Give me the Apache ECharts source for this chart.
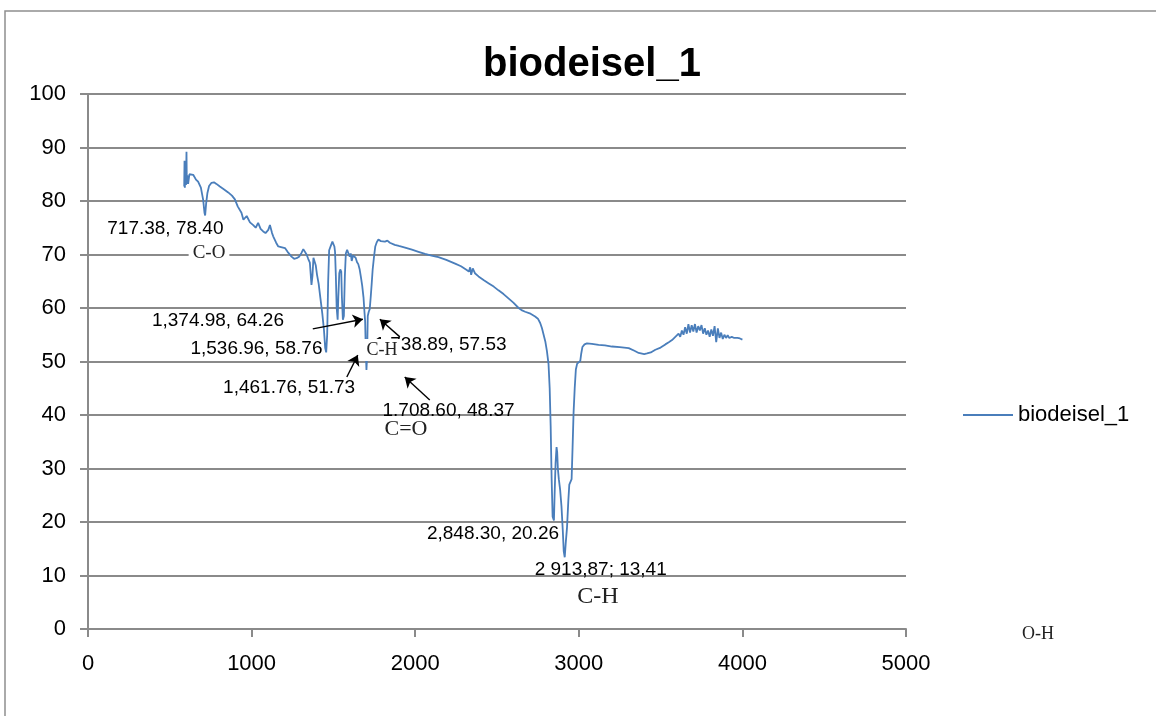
<!DOCTYPE html>
<html lang="en">
<head>
    <meta charset="utf-8">
    <title>biodeisel_1</title>
    <script type="text/javascript" src="https://cdn.jsdelivr.net/npm/echarts@6/dist/echarts.min.js"></script>
    <style>
        html, body { margin: 0; padding: 0; background: #fff; }
    </style>
</head>

<body>
    <div id="main" style="width:1156px;height:716px;"></div>

    <script type="text/javascript">
    // wavenumber (cm-1) and transmittance (%)
    var waveNumbers = [
        588, 590, 592, 596, 599, 602, 604, 607, 612, 620, 628, 643, 660, 673, 690, 704, 712, 716,
        722, 730, 740, 755, 770, 785, 806, 830, 857, 880, 898, 915, 938, 950, 959, 970, 979, 990,
        1010, 1025, 1040, 1055, 1071, 1085, 1102, 1112, 1118, 1125, 1132, 1150, 1163, 1180, 1204,
        1220, 1244, 1260, 1275, 1290, 1305, 1316, 1326, 1336, 1346, 1356, 1366, 1372, 1378, 1384,
        1392, 1400, 1410, 1420, 1432, 1442, 1450, 1456, 1462, 1468, 1474, 1484, 1494, 1500, 1506,
        1510, 1515, 1520, 1526, 1530, 1536, 1542, 1548, 1552, 1558, 1564, 1570, 1576, 1584, 1592,
        1600, 1606, 1612, 1620, 1628, 1636, 1644, 1652, 1660, 1668, 1676, 1684, 1690, 1694, 1698,
        1702, 1706, 1710, 1716, 1722, 1728, 1734, 1740, 1748, 1756, 1765, 1775, 1790, 1800, 1815,
        1830, 1845, 1856, 1875, 1900, 1938, 1980, 2020, 2060, 2100, 2142, 2190, 2244, 2280, 2315,
        2328, 2336, 2342, 2346, 2352, 2358, 2365, 2387, 2420, 2450, 2480, 2509, 2540, 2570, 2600,
        2632, 2650, 2672, 2700, 2733, 2750, 2764, 2775, 2785, 2795, 2805, 2815, 2822, 2828, 2834,
        2840, 2848, 2852, 2858, 2864, 2868, 2872, 2878, 2886, 2894, 2902, 2908, 2914, 2920, 2928,
        2936, 2942, 2950, 2956, 2962, 2968, 2975, 2982, 2990, 3000, 3009, 3015, 3022, 3035, 3050,
        3080, 3121, 3160, 3203, 3250, 3305, 3340, 3366, 3400, 3417, 3440, 3468, 3500, 3529, 3550,
        3570, 3590, 3600, 3610, 3620, 3630, 3640, 3650, 3660, 3670, 3680, 3690, 3700, 3710, 3720,
        3730, 3740, 3750, 3760, 3770, 3780, 3790, 3800, 3810, 3820, 3830, 3840, 3850, 3860, 3870,
        3880, 3890, 3900, 3910, 3920, 3935, 3950, 3970, 3985, 4000
    ];
    var transmittance = [
        82.7, 87.5, 82.5, 86.0, 83.0, 89.2, 83.2, 84.8, 83.2, 85.0, 85.3, 84.9, 84.0, 83.6, 82.5, 80.2, 77.8, 77.3,
        79.5, 81.5, 82.8, 83.4, 83.5, 83.2, 82.7, 82.2, 81.6, 81.0, 80.3, 79.0, 77.8, 76.5, 76.4, 77.2, 77.0, 76.0,
        75.5, 75.0, 75.9, 74.8, 74.3, 74.0, 74.6, 75.5, 75.2, 74.0, 73.4, 72.2, 71.5, 71.4, 71.2,
        70.5, 69.6, 69.2, 69.3, 69.6, 70.3, 71.0, 70.9, 70.0, 69.2, 68.5, 64.3, 66.0, 69.4, 69.6,
        68.0, 66.2, 64.5, 62.0, 59.0, 56.0, 52.5, 51.7, 55.0, 65.0, 70.8, 71.6, 72.4, 72.5, 71.5,
        70.5, 66.0, 60.0, 57.8, 62.0, 66.5, 67.2, 66.8, 62.0, 57.8, 58.5, 66.0, 70.2, 70.9, 70.2,
        69.6, 70.2, 68.8, 69.8, 70.1, 69.4, 68.6, 68.2, 67.3, 65.8, 64.2, 62.0, 59.2, 57.5, 52.0,
        48.4, 51.0, 58.5, 59.3, 59.8, 62.0, 64.5, 67.2, 69.5, 71.5, 72.3, 72.8, 72.5, 72.7, 72.4,
        72.6, 72.2, 72.1, 71.8, 71.6, 71.3, 70.9, 70.5, 70.1, 69.8, 69.5, 69.0, 68.3, 67.8, 67.1,
        66.8, 67.6, 66.2, 65.9, 67.4, 67.0, 66.5, 65.9, 65.2, 64.6, 64.0, 63.3, 62.6, 61.8, 61.0,
        60.0, 59.6, 59.3, 59.0, 58.4, 58.0, 57.2, 56.2, 55.0, 53.8, 52.0, 49.5, 45.0, 38.0, 28.0,
        21.0, 20.3, 25.0, 31.0, 34.0, 33.0, 30.0, 28.0, 26.0, 23.0, 18.5, 14.5, 13.4, 16.0, 19.0,
        24.0, 27.0, 27.2, 28.0, 34.0, 40.4, 45.0, 48.5, 49.6, 49.9, 50.1, 51.5, 52.7, 53.2, 53.4,
        53.3, 53.1, 53.0, 52.8, 52.7, 52.5, 52.0, 51.6, 51.4, 51.5, 51.7, 52.2, 52.6, 53.2, 53.6,
        54.0, 54.6, 54.3, 55.2, 54.6, 55.8, 55.0, 56.4, 55.2, 57.0, 55.4, 56.8, 55.6, 57.0, 55.4,
        56.6, 55.8, 56.8, 55.2, 56.2, 55.0, 55.8, 54.6, 56.0, 54.8, 56.6, 53.6, 56.2, 54.4, 55.4,
        54.2, 55.0, 54.4, 54.9, 54.4, 54.6, 54.4, 54.4, 54.3, 54.1
    ];

    // peak labels: wavenumber, transmittance, text, label offset [dx, dy]
    var peakX = [717.38, 1374.98, 1536.96, 1738.89, 1461.76, 1708.60, 2848.30, 2913.87];
    var peakY = [78.40, 64.26, 58.76, 57.53, 51.73, 48.37, 20.26, 13.41];
    var peakText = ['717.38, 78.40', '1,374.98, 64.26', '1,536.96, 58.76', '1,738.89, 57.53',
                    '1,461.76, 51.73', '1,708.60, 48.37', '2,848.30, 20.26', '2 913,87; 13,41'];
    var peakOffset = [[-40, 19], [-95, 36], [-83, 34], [68, 24], [-38, 36], [81, 41], [-61, 13], [36, 13]];

    // arrows drawn on the chart (from [x, y] to [x, y])
    var arrows = [
        [[1374, 56.1], [1680, 57.9]],
        [[1906, 54.6], [1784, 57.9]],
        [[1582, 47.1], [1649, 51.2]],
        [[2089, 42.8], [1936, 47.1]]
    ];

    var xTicks = [0, 1000, 2000, 3000, 4000, 5000];
    var yTicks = [0, 10, 20, 30, 40, 50, 60, 70, 80, 90, 100];

    var seriesData = waveNumbers.map(function (x, i) { return [x, transmittance[i]]; });

    var markPoints = peakX.map(function (x, i) {
        return {
            coord: [x, peakY[i]],
            label: { offset: peakOffset[i], formatter: peakText[i] }
        };
    });

    var markLines = arrows.map(function (a) {
        return [{ coord: a[0] }, { coord: a[1] }];
    });

    var gridColor = '#8a8a8a';
    var sans = 'Liberation Sans, Arial, sans-serif';
    var serif = 'Liberation Serif, Times New Roman, serif';

    function bondLabel(text, x, y, size) {
        return {
            type: 'text', x: x, y: y, z: 100,
            style: {
                text: text, font: size + 'px ' + serif, fill: '#222',
                align: 'center', verticalAlign: 'middle',
                backgroundColor: '#fff', padding: [2, 4]
            }
        };
    }

    var myChart = echarts.init(document.getElementById('main'));

    myChart.setOption({
        animation: false,
        backgroundColor: '#fff',
        title: {
            text: 'biodeisel_1',
            left: 587,
            top: 40,
            textAlign: 'center',
            textStyle: { fontFamily: sans, fontSize: 40, fontWeight: 'bold', color: '#000' }
        },
        legend: {
            data: ['biodeisel_1'],
            left: 958,
            top: 399,
            icon: 'rect',
            itemWidth: 50,
            itemHeight: 2,
            itemGap: 6,
            textStyle: { fontFamily: sans, fontSize: 22, color: '#000' }
        },
        grid: { left: 88, right: 250, top: 94, bottom: 87 },
        xAxis: {
            type: 'value',
            min: xTicks[0],
            max: xTicks[xTicks.length - 1],
            interval: 1000,
            axisLine: { lineStyle: { color: gridColor, width: 2 } },
            axisTick: { show: true, length: 8, lineStyle: { color: gridColor, width: 2 } },
            axisLabel: {
                margin: 24, fontFamily: sans, fontSize: 22, color: '#000',
                formatter: function (v) { return String(v); }
            },
            splitLine: { show: false }
        },
        yAxis: {
            type: 'value',
            min: yTicks[0],
            max: yTicks[yTicks.length - 1],
            interval: 10,
            axisLine: { show: true, lineStyle: { color: gridColor, width: 2 } },
            axisTick: { show: true, length: 8, lineStyle: { color: gridColor, width: 2 } },
            axisLabel: { margin: 22, fontFamily: sans, fontSize: 22, color: '#000' },
            splitLine: { show: true, lineStyle: { color: gridColor, width: 2 } }
        },
        series: [{
            name: 'biodeisel_1',
            type: 'line',
            data: seriesData,
            showSymbol: false,
            lineStyle: { color: '#4a7ebb', width: 1.8 },
            itemStyle: { color: '#4a7ebb' },
            markPoint: {
                symbol: 'circle',
                symbolSize: 1,
                itemStyle: { color: 'rgba(0,0,0,0)' },
                silent: true,
                label: {
                    show: true, position: 'inside',
                    fontFamily: sans, fontSize: 19, color: '#000'
                },
                data: markPoints
            },
            markLine: {
                silent: true,
                symbol: ['none', 'arrow'],
                symbolSize: 10,
                label: { show: false },
                lineStyle: { color: '#000', width: 1.4, type: 'solid' },
                data: markLines
            }
        }],
        graphic: [
            {
                type: 'rect', z: 0, silent: true,
                shape: { x: 5, y: 11, width: 1300, height: 800 },
                style: { fill: 'none', stroke: '#8f8f8f', lineWidth: 1.5 }
            },
            bondLabel('C-O', 209, 253, 19),
            bondLabel('C-H', 382, 350, 18),
            bondLabel('C=O', 406, 429, 22),
            bondLabel('C-H', 598, 597, 24),
            bondLabel('O-H', 1038, 634, 18)
        ]
    });
    </script>
</body>
</html>
